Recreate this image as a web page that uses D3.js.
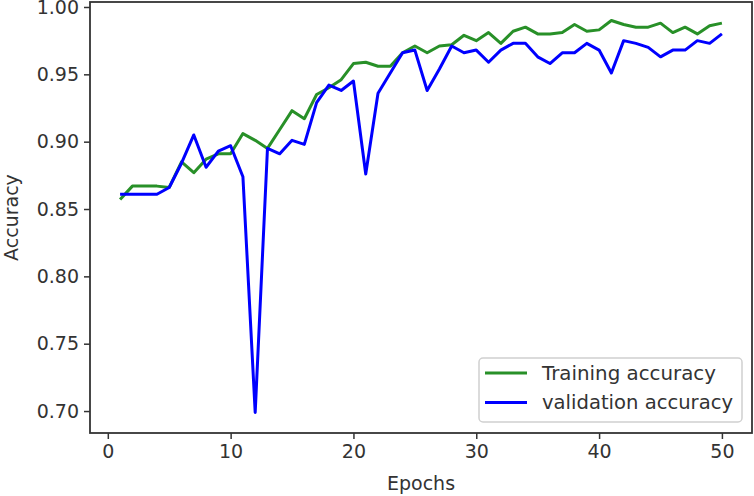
<!DOCTYPE html>
<html>
<head>
<meta charset="utf-8">
<script src="https://cdn.jsdelivr.net/npm/d3@7"></script>
<style>
  html, body { margin: 0; padding: 0; background: #fff; }
  svg { display: block; }
  text { font-family: "DejaVu Sans", sans-serif; fill: #333; }
</style>
</head>
<body>
<svg id="chart" width="754" height="496"></svg>
<script>
const epochs = d3.range(1, 51);
const trainingAccuracy = [
  0.857, 0.867, 0.867, 0.867, 0.866, 0.885, 0.877, 0.887, 0.891, 0.891,
  0.906, 0.901, 0.895, 0.909, 0.923, 0.917, 0.935, 0.940, 0.946, 0.958,
  0.959, 0.956, 0.956, 0.966, 0.971, 0.966, 0.971, 0.972, 0.979, 0.975,
  0.981, 0.973, 0.982, 0.985, 0.980, 0.980, 0.981, 0.987, 0.982, 0.983,
  0.990, 0.987, 0.985, 0.985, 0.988, 0.981, 0.985, 0.980, 0.986, 0.988
];
const validationAccuracy = [
  0.861, 0.861, 0.861, 0.861, 0.866, 0.884, 0.905, 0.881, 0.893, 0.897,
  0.874, 0.699, 0.895, 0.891, 0.901, 0.898, 0.929, 0.942, 0.938, 0.945,
  0.876, 0.936, 0.951, 0.966, 0.968, 0.938, 0.954, 0.971, 0.966, 0.968,
  0.959, 0.968, 0.973, 0.973, 0.963, 0.958, 0.966, 0.966, 0.973, 0.968,
  0.951, 0.975, 0.973, 0.970, 0.963, 0.968, 0.968, 0.975, 0.973, 0.980
];
const xTicks = [0, 10, 20, 30, 40, 50];
const yTicks = [0.70, 0.75, 0.80, 0.85, 0.90, 0.95, 1.00];
const seriesNames = ["Training accuracy", "validation accuracy"];
const seriesColors = ["#289028", "#0000ff"];

const svg = d3.select("#chart");
const L = 90, R = 752, T = 2, B = 433;

const x = d3.scaleLinear().domain([-1.45, 52.45]).range([L, R]);
const y = d3.scaleLinear().domain([0.6837, 1.0037]).range([B, T]);

const line = d3.line().x((d, i) => x(epochs[i])).y(d => y(d));

const plot = svg.append("g");
[trainingAccuracy, validationAccuracy].forEach((s, k) => {
  plot.append("path")
    .datum(s)
    .attr("fill", "none")
    .attr("stroke", seriesColors[k])
    .attr("stroke-width", 3)
    .attr("stroke-linejoin", "round")
    .attr("stroke-linecap", "butt")
    .attr("d", line);
});

// Axes
const xAxis = d3.axisBottom(x).tickValues(xTicks).tickSize(6).tickPadding(6).tickFormat(d3.format("d"));
const yAxis = d3.axisLeft(y).tickValues(yTicks).tickSize(6).tickPadding(5).tickFormat(d3.format(".2f"));

const gx = svg.append("g").attr("transform", `translate(0,${B})`).call(xAxis);
const gy = svg.append("g").attr("transform", `translate(${L},0)`).call(yAxis);
[gx, gy].forEach(g => {
  g.select(".domain").remove();
  g.selectAll(".tick line").attr("stroke", "#333").attr("stroke-width", 1.5);
  g.selectAll(".tick text").attr("font-size", 19).attr("font-family", "DejaVu Sans, sans-serif").attr("fill", "#333");
});

// Frame (spines)
svg.append("rect")
  .attr("x", L).attr("y", T)
  .attr("width", R - L).attr("height", B - T)
  .attr("fill", "none")
  .attr("stroke", "#333")
  .attr("stroke-width", 1.8);

// Axis labels
svg.append("text")
  .attr("x", (L + R) / 2).attr("y", 490)
  .attr("text-anchor", "middle")
  .attr("font-size", 19)
  .text("Epochs");

svg.append("text")
  .attr("transform", `translate(18,${(T + B) / 2}) rotate(-90)`)
  .attr("text-anchor", "middle")
  .attr("font-size", 19)
  .text("Accuracy");

// Legend
const lg = svg.append("g");
const lx = 479, ly = 358, lw = 263, lh = 64;
lg.append("rect")
  .attr("x", lx).attr("y", ly).attr("width", lw).attr("height", lh)
  .attr("rx", 4).attr("ry", 4)
  .attr("fill", "#fff").attr("fill-opacity", 0.8)
  .attr("stroke", "#d0d0d0").attr("stroke-width", 1.5);
seriesNames.forEach((name, k) => {
  const yy = ly + 15 + k * 29.5;
  lg.append("line")
    .attr("x1", lx + 6).attr("x2", lx + 48)
    .attr("y1", yy).attr("y2", yy)
    .attr("stroke", seriesColors[k]).attr("stroke-width", 3);
  lg.append("text")
    .attr("x", lx + 63).attr("y", yy)
    .attr("dy", "0.35em")
    .attr("font-size", 19.5)
    .attr("textLength", 191)
    .attr("lengthAdjust", "spacingAndGlyphs")
    .text(name)
    .attr("textLength", k === 0 ? 174 : 191);
});
</script>
</body>
</html>
